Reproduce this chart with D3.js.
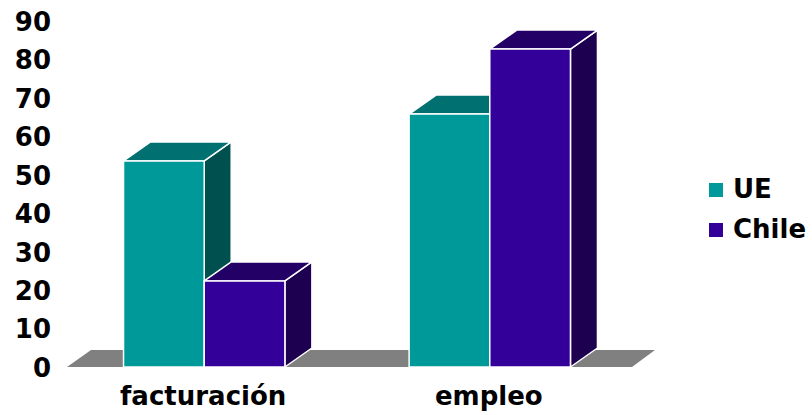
<!DOCTYPE html>
<html><head><meta charset="utf-8">
<script src="https://cdn.jsdelivr.net/npm/d3@7/dist/d3.min.js"></script>
<style>html,body{margin:0;padding:0;background:#fff;}svg{display:block;}</style>
</head><body>
<svg id="c" width="812" height="415"></svg>
<script>
const categories = ["facturación", "empleo"];
const seriesNames = ["UE", "Chile"];
const ueValues = [53.6, 65.8];
const chileValues = [22.4, 82.7];
const tickValues = [0, 10, 20, 30, 40, 50, 60, 70, 80, 90];

const colors = {
  UE: {front: "#009999", top: "#007070", side: "#005050"},
  Chile: {front: "#330099", top: "#220066", side: "#1e0050"}
};
const seriesValues = {UE: ueValues, Chile: chileValues};

const svg = d3.select("#c");
const font = "'DejaVu Sans', Verdana, sans-serif";

const y = d3.scaleLinear().domain([0, 90]).range([367, 21]);
const floorX0 = 67, floorX1 = 632;
const x = d3.scaleBand().domain(categories).range([64, 630]).paddingInner(0.435).paddingOuter(0.2085);
const xs = d3.scaleBand().domain(seriesNames).range([0, x.bandwidth()]);

const bdx = 27, bdy = 19; // bar depth
const fdx = 24, fdy = 17; // floor depth

// floor
const y0 = y(0);
svg.append("path")
  .attr("d", `M${floorX0},${y0} L${floorX0 + fdx},${y0 - fdy} L${floorX1 + fdx - 1},${y0 - fdy} L${floorX1},${y0} Z`)
  .attr("fill", "#808080");

// bars
const g = svg.append("g");
categories.forEach((cat, ci) => {
  seriesNames.forEach(s => {
    const v = seriesValues[s][ci];
    const x0 = x(cat) + xs(s);
    const w = xs.bandwidth();
    const yt = y(v);
    const c = colors[s];
    const bg = g.append("g").attr("stroke", "#fff").attr("stroke-width", 1.5).attr("stroke-linejoin", "round");
    bg.append("path")
      .attr("d", `M${x0 + w},${yt} L${x0 + w + bdx},${yt - bdy} L${x0 + w + bdx},${y0 - bdy} L${x0 + w},${y0} Z`)
      .attr("fill", c.side);
    bg.append("path")
      .attr("d", `M${x0},${yt} L${x0 + bdx},${yt - bdy} L${x0 + w + bdx},${yt - bdy} L${x0 + w},${yt} Z`)
      .attr("fill", c.top);
    bg.append("rect")
      .attr("x", x0).attr("y", yt).attr("width", w).attr("height", y0 - yt)
      .attr("fill", c.front);
  });
});

// y axis
const ax = svg.append("g").attr("transform", "translate(51,0)")
  .call(d3.axisLeft(y).tickValues(tickValues).tickSize(0).tickPadding(0).tickFormat(d3.format("d")));
ax.select(".domain").remove();
ax.selectAll("text").attr("font-family", font).attr("font-weight", "bold")
  .attr("font-size", 26).attr("fill", "#000").attr("dy", "0.36em");

// category labels
svg.append("g").selectAll("text").data(categories).join("text")
  .attr("x", d => x(d) + x.bandwidth() / 2 - 1)
  .attr("y", 405)
  .attr("text-anchor", "middle")
  .attr("font-family", font).attr("font-weight", "bold").attr("font-size", 26)
  .attr("fill", "#000")
  .text(d => d);

// legend
const lg = svg.append("g").selectAll("g").data(seriesNames).join("g")
  .attr("transform", (d, i) => `translate(709,${183 + i * 40})`);
lg.append("rect").attr("width", 14).attr("height", 14).attr("fill", d => colors[d].front);
lg.append("text").attr("x", 24).attr("y", 15)
  .attr("font-family", font).attr("font-weight", "bold").attr("font-size", 26)
  .attr("fill", "#000").text(d => d);
</script>
</body></html>
